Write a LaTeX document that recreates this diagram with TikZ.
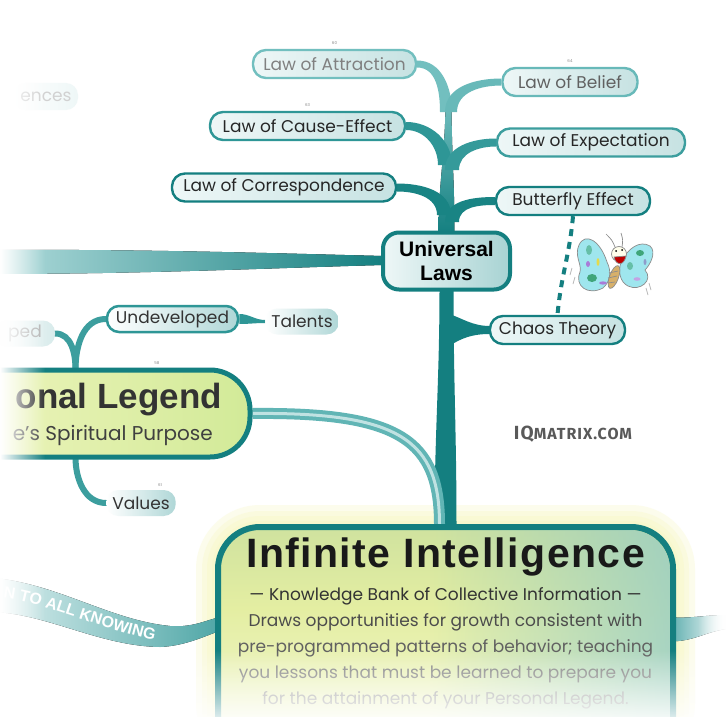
\documentclass[tikz,border=0pt]{standalone}
\usepackage{fontspec}
\setmainfont{Poppins}
\newfontfamily\headfont{Liberation Sans}
\newfontfamily\siteface{Fira Sans}[LetterSpace=6]
\usetikzlibrary{calc,fadings,decorations.text}

\definecolor{tealdark}{HTML}{147F80}
\definecolor{tealmid}{HTML}{2E9696}
\definecolor{teallight}{HTML}{72BFBF}
\definecolor{leafpale}{HTML}{EEF7F7}
\definecolor{leaftint}{HTML}{C6E2E2}
\definecolor{legyellow}{HTML}{EFF5BE}
\definecolor{leggreen}{HTML}{D2EA98}
\definecolor{haloyellow}{HTML}{F7F7BC}
\definecolor{boxtop}{HTML}{6AA88E}
\definecolor{boxmid}{HTML}{E4EEA2}
\definecolor{boxtint}{HTML}{93CBC8}
\definecolor{wingblue}{HTML}{9FE6EE}
\definecolor{spotgreen}{HTML}{3FA57A}
\definecolor{spotpurple}{HTML}{A97BD8}
\definecolor{spotyellow}{HTML}{E5DA4C}
\definecolor{bodytan}{HTML}{D7B06A}

\pgfdeclarelayer{back}
\pgfdeclarelayer{links}
\pgfdeclarelayer{front}
\pgfsetlayers{back,links,main,front}

\tikzfading[name=fadeleftside, left color=transparent!0, right color=transparent!100]
\tikzfading[name=faderightside, left color=transparent!100, right color=transparent!0]
\tikzfading[name=fadetopside, top color=transparent!0, bottom color=transparent!100]
\tikzfading[name=fadebottomside, top color=transparent!100, bottom color=transparent!0]

\pgfdeclareverticalshading{iishade}{100bp}{color(0bp)=(white); color(28bp)=(boxmid!45!white);
  color(58bp)=(boxmid); color(78bp)=(boxmid!80!boxtop); color(92bp)=(boxtop!70!boxmid); color(100bp)=(boxtop)}

% tapered limb: node end #1 (half width #3), trunk end #2 (signed half width #4)
\newcommand{\limb}[7]{%
  \fill[#7] ($#1+(0,#3)$) to[out=#5,in=#6] ($#2+(#4,0)$)
    -- ($#2-(#4,0)$) to[out=#6,in=#5] ($#1-(0,#3)$) -- cycle;}

\tikzset{
  law/.style={draw=tealdark, line width=2.4pt, rounded corners=13pt,
    minimum height=28pt, inner xsep=6pt, left color=leafpale, right color=leaftint,
    font=\fontsize{17}{20}\selectfont, text=black!85},
  leaf/.style={rounded corners=12pt, minimum height=26pt, inner xsep=6pt,
    left color=white, right color=leaftint!85!tealmid,
    font=\fontsize{17}{20}\selectfont, text=black!80},
  hub/.style={draw=tealdark, line width=4pt, rounded corners=16pt,
    minimum width=127pt, minimum height=57pt, left color=leafpale, right color=leaftint!80!tealmid,
    font=\headfont\bfseries\fontsize{21}{24}\selectfont, align=center, text=black},
  legbox/.style={draw=tealdark, line width=5pt, rounded corners=40pt,
    left color=legyellow, right color=leggreen},
  iibox/.style={draw=tealdark, line width=6pt, rounded corners=42pt, shading=iishade},
  glow/.style={fill=haloyellow, opacity=.28},
  tag/.style={font=\fontsize{4}{4}\selectfont, text=black!45, inner sep=0},
  stem/.style={draw=tealmid!80!teallight, line width=6pt, line cap=round},
}

\begin{document}
\begin{tikzpicture}[x=1pt,y=1pt]
\useasboundingbox (0,0) rectangle (726,-717);

\node[law, minimum width=163pt, draw=teallight, text=black!50] (att) at (334.5,-64) {Law of Attraction};
\node[law, minimum width=135pt, draw=teallight!85!tealmid, text=black!62] (bel) at (570,-82) {Law of Belief};
\node[law, minimum width=195pt, draw=tealmid] (cau) at (307.5,-126) {Law of Cause-Effect};
\node[law, minimum width=188pt, draw=tealmid!80!teallight] (exp) at (591,-142.5) {Law of Expectation};
\node[law, minimum width=224pt] (cor) at (284,-187.5) {Law of Correspondence};
\node[law, minimum width=154pt] (but) at (573,-201) {Butterfly Effect};
\node[hub] (ul) at (446.5,-261) {Universal\\Laws};
\node[law, minimum width=135pt] (cha) at (557.5,-330) {Chaos Theory};

\node[tag] at ($(att.north)+(0,6)$) {60};
\node[tag] at ($(cau.north)+(0,6)$) {63};
\node[tag] at ($(bel.north)+(0,6)$) {64};

\node[leaf, minimum width=64pt, minimum height=27pt, text=black!18, left color=white, right color=leafpale] (enc) at (46,-96.5) {ences};

\node[legbox, minimum width=300pt, minimum height=87pt] (leg) at (100,-413.5) {};
\node[font=\headfont\bfseries\fontsize{35}{35}\selectfont, text=black!80, anchor=east, inner sep=0] (legtitle) at (222,-400) {onal Legend};
\node[font=\fontsize{20}{20}\selectfont, text=black!75, anchor=east, inner sep=0] (legsub) at (213,-435) {e’s Spiritual Purpose};
\node[tag] at (157,-363) {58};

\node[leaf, draw=tealmid, line width=2.5pt, minimum width=131pt] (und) at (172.5,-319) {Undeveloped};
\node[leaf, minimum width=70pt] (tal) at (302,-321.5) {Talents};
\node[leaf, minimum width=62pt] (val) at (141,-503) {Values};
\node[tag] at (160,-485) {61};
\node[leaf, minimum width=60pt, text=black!30, left color=white, right color=leaftint!70] (ped) at (25,-333.5) {ped};

\node[iibox, minimum width=455pt, minimum height=240pt] (ii) at (445.5,-647) {};
\begin{scope}
  \clip[rounded corners=40pt] (221,-530) rectangle (670,-767);
  \fill[boxtint, path fading=faderightside, opacity=.75] (430,-530) rectangle (670,-767);
\end{scope}
\node[font=\headfont\bfseries\fontsize{41}{41}\selectfont\addfontfeature{LetterSpace=3.5}, text=black!90] (iititle) at (445.5,-557) {Infinite Intelligence};
\node[font=\fontsize{17}{26}\selectfont, align=center, anchor=north, inner sep=0] (iitext) at (445.5,-587) {%
  {\color{black!80}— Knowledge Bank of Collective Information —}\\
  {\color{black!70}Draws opportunities for growth consistent with}\\
  {\color{black!62}pre-programmed patterns of behavior; teaching}\\
  {\color{black!50}you lessons that must be learned to prepare you}\\
  {\color{black!40}for the attainment of your Personal Legend.}};

\node[font=\siteface\bfseries, text=black!65] (site) at (573,-434) {{\fontsize{19}{19}\selectfont IQ}{\fontsize{16}{19}\selectfont MATRIX.COM}};

% butterfly
\begin{scope}[line width=.7pt, draw=black!45]
  \filldraw[fill=wingblue] (607,-262) .. controls (600,-240) and (585,-232) .. (579,-245)
    .. controls (574,-256) and (582,-264) .. (580,-272) .. controls (574,-286) and (588,-296) .. (603,-288)
    .. controls (610,-282) and (612,-272) .. cycle;
  \filldraw[fill=wingblue] (621,-262) .. controls (628,-248) and (640,-240) .. (650,-246)
    .. controls (657,-252) and (650,-265) .. (645,-270) .. controls (654,-280) and (640,-292) .. (628,-286)
    .. controls (620,-282) and (618,-272) .. cycle;
  \fill[spotgreen] (592,-278) ellipse (5 and 4);
  \fill[spotgreen!60!wingblue] (589,-250) ellipse (3 and 5);
  \fill[spotyellow] (598,-262) ellipse (1.5 and 4);
  \fill[spotpurple] (588,-264) ellipse (2 and 3);
  \fill[spotpurple] (603,-283) ellipse (4 and 1.6);
  \fill[spotgreen] (640,-253) ellipse (4 and 3);
  \fill[spotgreen!60!wingblue] (630,-266) ellipse (3 and 4);
  \fill[spotpurple!70] (637,-279) ellipse (3.5 and 1.8);
  \fill[teallight!50!spotpurple] (645,-262) ellipse (1.5 and 3);
  \filldraw[fill=bodytan, rotate around={-20:(614,-277)}] (614,-277) ellipse (4.5 and 12);
  \draw (609,-273) -- (618,-271) (608,-278) -- (617,-276) (608,-283) -- (615,-282);
  \filldraw[fill=yellow!8] (619,-254) circle (7.5);
  \fill[black] (616,-251) circle (1) (622,-250) circle (1);
  \filldraw[fill=red!75!black] (614,-257) .. controls (616,-266) and (624,-266) .. (626,-256) -- cycle;
  \draw (615,-247) .. controls (612,-240) .. (606,-234) (622,-247) .. controls (623,-240) .. (621,-233);
  \draw[black!30] (572,-268) -- (570,-275) (575,-277) -- (573,-284) (649,-283) -- (651,-290) (646,-288) -- (648,-295);
\end{scope}

\begin{pgfonlayer}{back}
  \fill[white] (0,0) rectangle (726,-717);
  \foreach \g in {22,16,11,6}
    \fill[glow, rounded corners=42pt+\g pt] (218-\g,-527+\g) rectangle (673+\g,-767);
  \fill[left color=teallight!25, right color=tealmid!85] (-5,-578) .. controls (60,-585) and (110,-620) .. (170,-626)
    .. controls (195,-628) and (210,-618) .. (222,-617) -- (222,-630) .. controls (205,-636) and (185,-646) .. (160,-647)
    .. controls (100,-646) and (50,-615) .. (-5,-612) -- cycle;
  \path[decorate, decoration={text along path, text align=left,
      text={|\headfont\bfseries\fontsize{16}{16}\selectfont\color{white}|N TO ALL KNOWING}}]
    (3,-598) .. controls (50,-604) and (100,-630) .. (162,-642);
  \coordinate (stub) at (726,-622);
  \fill[left color=tealmid!80, right color=white] (668,-617) .. controls (690,-619) and (705,-615) .. ($(stub)+(0,7)$)
    -- ($(stub)+(0,-7)$) .. controls (705,-632) and (690,-643) .. (668,-641) -- cycle;
\end{pgfonlayer}

\begin{pgfonlayer}{links}
  \fill[left color=teallight!55, middle color=tealdark!85, right color=tealdark] (-5,-250) .. controls (150,-249) and (300,-254) .. ($(ul.west)+(3,5)$)
    -- ($(ul.west)+(3,-4)$) .. controls (300,-267) and (150,-274) .. (-5,-274) -- cycle;
  \coordinate (crown) at (448.5,-100);
  \fill[top color=teallight, bottom color=tealdark] ($(crown)+(-3,0)$) to[out=-90,in=90] ($(ul.north)+(-8,-3)$)
    -- ($(ul.north)+(8,-3)$) to[out=90,in=-90] ($(crown)+(3,0)$) -- cycle;
  \limb{(att.east)}{(446,-112)}{3.5}{6}{0}{90}{fill=teallight}
  \limb{(bel.west)}{(451,-112)}{3.5}{-6}{180}{90}{fill=teallight!85!tealmid}
  \limb{(cau.east)}{(445,-165)}{4}{7}{0}{90}{fill=tealmid}
  \limb{(exp.west)}{(452,-170)}{4}{-7}{180}{90}{fill=tealmid!90!teallight}
  \limb{(cor.east)}{(444,-215)}{4}{7}{0}{90}{fill=tealdark!80!tealmid}
  \limb{(but.west)}{(452,-222)}{4}{-7}{180}{90}{fill=tealdark!80!tealmid}
  \fill[tealdark] ($(ul.south)+(-7,3)$) to[out=-90,in=90] ($(ii.north)+(-11,-3)$)
    -- ($(ii.north)+(11,-3)$) to[out=90,in=-90] ($(ul.south)+(7,3)$) -- cycle;
  \fill[tealdark] ($(cha.west)+(1,4)$) .. controls (472,-326) and (462,-318) .. (449,-314)
    -- (449,-346) .. controls (462,-338) and (472,-334) .. ($(cha.west)+(1,-4)$) -- cycle;
  \draw[line width=11pt, teallight!75!tealmid] (leg.east) .. controls (400,-412) and (440,-440) .. ($(ii.north)+(-6,-2)$);
  \draw[line width=3pt, white!55!teallight] (leg.east) .. controls (400,-412) and (440,-440) .. ($(ii.north)+(-6,-2)$);
  \draw[stem] ($(leg.north west)+(128,-2)$) to[out=90,in=0] (ped.east);
  \draw[stem] ($(leg.north west)+(128,-2)$) to[out=90,in=180] (und.west);
  \draw[stem] ($(leg.south west)+(128,2)$) to[out=-90,in=180] (val.west);
  \fill[tealmid] ($(und.east)+(0,5)$) to[out=0,in=180] ($(tal.west)+(0,1.5)$)
    -- ($(tal.west)+(0,-1.5)$) to[out=180,in=0] ($(und.east)+(0,-5)$) -- cycle;
  \draw[tealdark, line width=4pt, dash pattern=on 7pt off 6pt] (but.south) to[out=-95,in=85] (cha.north);
\end{pgfonlayer}

\begin{pgfonlayer}{front}
  \fill[white, path fading=fadebottomside, opacity=.85] (190,-650) rectangle (726,-717);
  \fill[white, path fading=fadeleftside] (0,0) rectangle (45,-717);
  \fill[white, path fading=fadetopside] (0,0) rectangle (726,-22);
  \fill[white, path fading=faderightside] (698,0) rectangle (726,-717);
\end{pgfonlayer}
\end{tikzpicture}
\end{document}
